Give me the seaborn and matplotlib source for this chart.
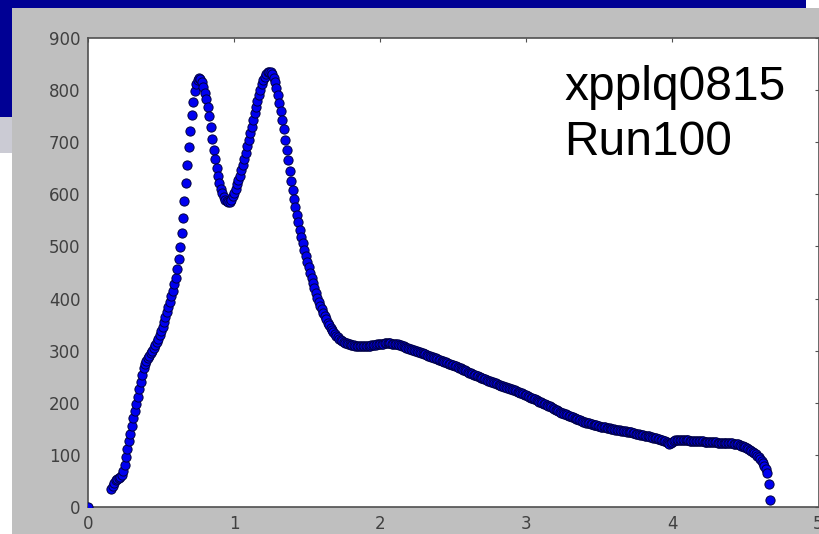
import matplotlib
matplotlib.use("Agg")
import matplotlib.pyplot as plt
from matplotlib.patches import Rectangle
import numpy as np
import pandas as pd
import seaborn as sns

# Spectrum samples: energy (x) and counts (y)
energy = [
    0.00,
    0.16, 0.17, 0.18, 0.19,
    0.20, 0.21, 0.22, 0.23, 0.24, 0.25, 0.26, 0.27, 0.28, 0.29,
    0.30, 0.31, 0.32, 0.33, 0.34, 0.35, 0.36, 0.37, 0.38, 0.39,
    0.40, 0.41, 0.42, 0.43, 0.44, 0.45, 0.46, 0.47, 0.48, 0.49,
    0.50, 0.51, 0.52, 0.53, 0.54, 0.55, 0.56, 0.57, 0.58, 0.59,
    0.60, 0.61, 0.62, 0.63, 0.64, 0.65, 0.66, 0.67, 0.68, 0.69,
    0.70, 0.71, 0.72, 0.73, 0.74, 0.75, 0.76, 0.77, 0.78, 0.79,
    0.80, 0.81, 0.82, 0.83, 0.84, 0.85, 0.86, 0.87, 0.88, 0.89,
    0.90, 0.91, 0.92, 0.93, 0.94, 0.95, 0.96, 0.97, 0.98, 0.99,
    1.00, 1.01, 1.02, 1.03, 1.04, 1.05, 1.06, 1.07, 1.08, 1.09,
    1.10, 1.11, 1.12, 1.13, 1.14, 1.15, 1.16, 1.17, 1.18, 1.19,
    1.20, 1.21, 1.22, 1.23, 1.24, 1.25, 1.26, 1.27, 1.28, 1.29,
    1.30, 1.31, 1.32, 1.33, 1.34, 1.35, 1.36, 1.37, 1.38, 1.39,
    1.40, 1.41, 1.42, 1.43, 1.44, 1.45, 1.46, 1.47, 1.48, 1.49,
    1.50, 1.51, 1.52, 1.53, 1.54, 1.55, 1.56, 1.57, 1.58, 1.59,
    1.60, 1.61, 1.62, 1.63, 1.64, 1.65, 1.66, 1.67, 1.68, 1.69,
    1.70, 1.71, 1.72, 1.73, 1.74, 1.75, 1.76, 1.77, 1.78, 1.79,
    1.80, 1.81, 1.82, 1.83, 1.84, 1.85, 1.86, 1.87, 1.88, 1.89,
    1.90, 1.91, 1.92, 1.93, 1.94, 1.95, 1.96, 1.97, 1.98, 1.99,
    2.00, 2.01, 2.02, 2.03, 2.04, 2.05, 2.06, 2.07, 2.08, 2.09,
    2.10, 2.11, 2.12, 2.13, 2.14, 2.15, 2.16, 2.17, 2.18, 2.19,
    2.20, 2.21, 2.22, 2.23, 2.24, 2.25, 2.26, 2.27, 2.28, 2.29,
    2.30, 2.31, 2.32, 2.33, 2.34, 2.35, 2.36, 2.37, 2.38, 2.39,
    2.40, 2.41, 2.42, 2.43, 2.44, 2.45, 2.46, 2.47, 2.48, 2.49,
    2.50, 2.51, 2.52, 2.53, 2.54, 2.55, 2.56, 2.57, 2.58, 2.59,
    2.60, 2.61, 2.62, 2.63, 2.64, 2.65, 2.66, 2.67, 2.68, 2.69,
    2.70, 2.71, 2.72, 2.73, 2.74, 2.75, 2.76, 2.77, 2.78, 2.79,
    2.80, 2.81, 2.82, 2.83, 2.84, 2.85, 2.86, 2.87, 2.88, 2.89,
    2.90, 2.91, 2.92, 2.93, 2.94, 2.95, 2.96, 2.97, 2.98, 2.99,
    3.00, 3.01, 3.02, 3.03, 3.04, 3.05, 3.06, 3.07, 3.08, 3.09,
    3.10, 3.11, 3.12, 3.13, 3.14, 3.15, 3.16, 3.17, 3.18, 3.19,
    3.20, 3.21, 3.22, 3.23, 3.24, 3.25, 3.26, 3.27, 3.28, 3.29,
    3.30, 3.31, 3.32, 3.33, 3.34, 3.35, 3.36, 3.37, 3.38, 3.39,
    3.40, 3.41, 3.42, 3.43, 3.44, 3.45, 3.46, 3.47, 3.48, 3.49,
    3.50, 3.51, 3.52, 3.53, 3.54, 3.55, 3.56, 3.57, 3.58, 3.59,
    3.60, 3.61, 3.62, 3.63, 3.64, 3.65, 3.66, 3.67, 3.68, 3.69,
    3.70, 3.71, 3.72, 3.73, 3.74, 3.75, 3.76, 3.77, 3.78, 3.79,
    3.80, 3.81, 3.82, 3.83, 3.84, 3.85, 3.86, 3.87, 3.88, 3.89,
    3.90, 3.91, 3.92, 3.93, 3.94, 3.95, 3.96, 3.97, 3.98, 3.99,
    4.00, 4.01, 4.02, 4.03, 4.04, 4.05, 4.06, 4.07, 4.08, 4.09,
    4.10, 4.11, 4.12, 4.13, 4.14, 4.15, 4.16, 4.17, 4.18, 4.19,
    4.20, 4.21, 4.22, 4.23, 4.24, 4.25, 4.26, 4.27, 4.28, 4.29,
    4.30, 4.31, 4.32, 4.33, 4.34, 4.35, 4.36, 4.37, 4.38, 4.39,
    4.40, 4.41, 4.42, 4.43, 4.44, 4.45, 4.46, 4.47, 4.48, 4.49,
    4.50, 4.51, 4.52, 4.53, 4.54, 4.55, 4.56, 4.57, 4.58, 4.59,
    4.60, 4.61, 4.62, 4.63, 4.64, 4.65, 4.66, 4.67,
]

counts = [
    0,
    35, 41, 47, 51,
    54, 56, 58, 62, 69, 80, 96, 112, 127, 141,
    155, 170, 184, 198, 212, 226, 240, 254, 266, 274,
    280, 285, 290, 295, 300, 305, 311, 317, 323, 330,
    338, 346, 355, 364, 374, 384, 394, 404, 415, 427,
    440, 456, 476, 499, 525, 555, 588, 622, 656, 690,
    722, 752, 778, 798, 812, 820, 823, 822, 816, 806,
    795, 782, 768, 750, 729, 707, 686, 667, 650, 635,
    622, 611, 602, 595, 590, 587, 585, 586, 590, 596,
    603, 611, 619, 627, 636, 646, 657, 668, 680, 692,
    704, 717, 730, 743, 756, 768, 780, 791, 801, 811,
    819, 826, 831, 834, 835, 834, 830, 824, 815, 804,
    791, 776, 760, 743, 725, 705, 685, 665, 645, 626,
    608, 591, 575, 560, 546, 532, 519, 506, 494, 482,
    471, 460, 449, 439, 429, 420, 411, 402, 394, 386,
    379, 372, 366, 360, 354, 349, 344, 340, 336, 332,
    329, 326, 323, 321, 319, 317, 315, 314, 313, 312,
    311, 310, 310, 309, 309, 309, 309, 309, 309, 309,
    309, 309, 309, 309, 310, 310, 311, 311, 312, 312,
    313, 313, 313, 314, 314, 314, 314, 314, 313, 313,
    313, 312, 312, 311, 310, 309, 308, 307, 306, 305,
    304, 303, 302, 301, 300, 299, 298, 297, 296, 295,
    294, 293, 292, 290, 289, 288, 287, 286, 285, 284,
    283, 282, 281, 280, 279, 278, 277, 275, 274, 273,
    272, 271, 270, 268, 267, 266, 265, 263, 262, 261,
    259, 258, 257, 256, 254, 253, 252, 251, 249, 248,
    247, 246, 245, 244, 242, 241, 240, 239, 238, 237,
    236, 235, 234, 233, 232, 231, 230, 229, 228, 227,
    226, 225, 224, 222, 221, 220, 219, 218, 216, 215,
    214, 213, 212, 210, 209, 208, 207, 205, 204, 202,
    201, 200, 198, 197, 195, 194, 193, 191, 190, 188,
    187, 186, 184, 183, 181, 180, 179, 178, 176, 175,
    174, 173, 172, 170, 169, 168, 167, 166, 165, 164,
    163, 162, 161, 161, 160, 159, 158, 157, 157, 156,
    155, 154, 154, 153, 153, 152, 151, 151, 150, 150,
    149, 148, 148, 147, 147, 146, 146, 145, 145, 144,
    144, 143, 143, 142, 142, 141, 140, 140, 139, 139,
    138, 137, 137, 136, 136, 135, 134, 133, 133, 132,
    131, 130, 129, 128, 127, 126, 124, 122, 121, 122,
    125, 127, 128, 128, 128, 128, 128, 128, 128, 128,
    128, 128, 127, 127, 127, 127, 127, 126, 126, 126,
    126, 126, 125, 125, 125, 125, 124, 124, 124, 124,
    124, 123, 123, 123, 123, 123, 123, 122, 122, 122,
    122, 122, 121, 121, 120, 120, 119, 118, 117, 116,
    115, 113, 112, 110, 108, 106, 104, 101, 98, 95,
    92, 88, 84, 79, 73, 66, 44, 13,
]

x_ticks = [0, 1, 2, 3, 4, 5]
y_ticks = [0, 100, 200, 300, 400, 500, 600, 700, 800, 900]
title_lines = ["xpplq0815", "Run100"]

spectrum = pd.DataFrame({"energy": energy, "counts": counts})

W, H = 819, 534
sns.set_style("white")
plt.rcParams["font.family"] = ["DejaVu Sans"]

fig = plt.figure(figsize=(W / 100, H / 100), dpi=100, facecolor="white")


def band(x0, y0, x1, y1, color):
    """Filled rectangle given in pixel coordinates measured from the top-left."""
    fig.add_artist(Rectangle((x0 / W, 1 - y1 / H), (x1 - x0) / W, (y1 - y0) / H,
                             transform=fig.transFigure, facecolor=color,
                             edgecolor="none", zorder=-10))


# slide header strip and the grey window behind the plot
band(0, 0, 806, 8, "#000094")
band(0, 0, 12, 117, "#000094")
band(0, 117, 12, 153, "#cbcbd4")
band(12, 8, W, H, "#bfbfbf")

ax = fig.add_axes([88 / W, (H - 507) / H, (818.5 - 88) / W, (507 - 38) / H])
ax.set_facecolor("white")

sns.scatterplot(data=spectrum, x="energy", y="counts", ax=ax,
                color="#0000f0", edgecolor="#000040", linewidth=0.7,
                s=44, legend=False, zorder=3)

ax.set_xlim(0, 5)
ax.set_ylim(0, 900)
ax.set_xticks(x_ticks)
ax.set_yticks(y_ticks)
ax.set_xlabel("")
ax.set_ylabel("")
for sp in ax.spines.values():
    sp.set_visible(True)
    sp.set_color("#505050")
    sp.set_linewidth(1.2)
ax.tick_params(direction="in", length=3, width=0.8, color="#505050",
               top=True, right=True, labelsize=12, labelcolor="#404040", pad=5.5)

fig.text(564 / W, 1 - 100 / H, title_lines[0], fontsize=34.5,
         family=["Liberation Sans", "DejaVu Sans"], color="black",
         ha="left", va="baseline")
fig.text(564 / W, 1 - 155 / H, title_lines[1], fontsize=34.5,
         family=["Liberation Sans", "DejaVu Sans"], color="black",
         ha="left", va="baseline")

fig.savefig("out.png", dpi=100, facecolor=fig.get_facecolor())
